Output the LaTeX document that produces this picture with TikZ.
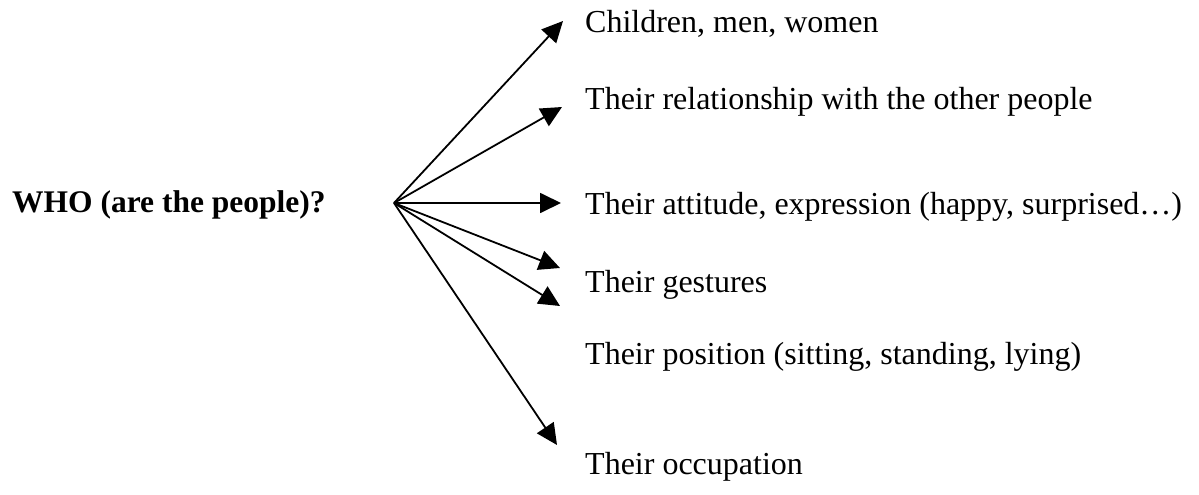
\documentclass[tikz,border=0pt]{standalone}
\usepackage{fontspec}
\setmainfont{Liberation Serif}
\usetikzlibrary{arrows.meta}
\begin{document}
\begin{tikzpicture}[x=1pt,y=-1pt,
  item/.style={anchor=west,inner sep=0pt,font=\fontsize{32}{35}\selectfont},
  arr/.style={line width=1.8pt,-{Triangle[length=21pt,width=20pt]}}]
\useasboundingbox (0,0) rectangle (1199,495);
\node[anchor=west,inner sep=0pt,font=\fontsize{31.5}{34}\bfseries\selectfont] (who) at (12,205) {WHO (are the people)?};
\coordinate (o) at (394,203);
\node[item] (t1) at (585,24) {Children, men, women};
\node[item] (t2) at (585,102) {Their relationship with the other people};
\node[item] (t3) at (585,207) {Their attitude, expression (happy, surprised…)};
\node[item] (t4) at (585,285) {Their gestures};
\node[item] (t5) at (585,357) {Their position (sitting, standing, lying)};
\node[item] (t6) at (585,467) {Their occupation};
\coordinate (e1) at (563,21);
\coordinate (e2) at (562,107);
\coordinate (e3) at (561,203);
\coordinate (e4) at (560,268);
\coordinate (e5) at (560,306);
\coordinate (e6) at (557,445);
\foreach \i in {1,...,6} \draw[arr] (o) -- (e\i);
\end{tikzpicture}
\end{document}
